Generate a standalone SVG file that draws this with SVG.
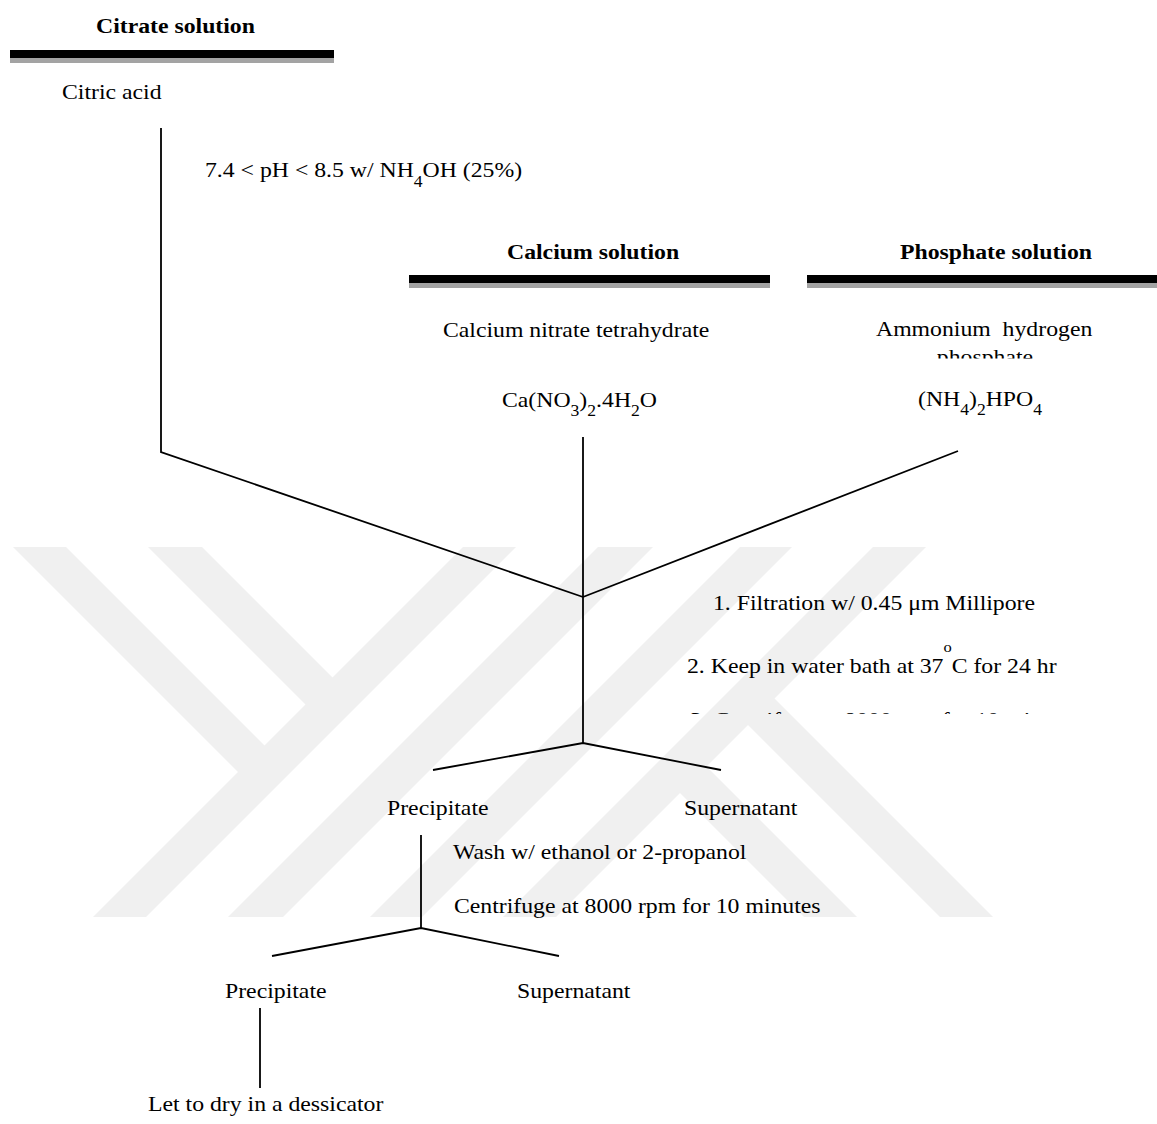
<svg xmlns="http://www.w3.org/2000/svg" width="1157" height="1124" viewBox="0 0 1157 1124">
<style>
.t{font-family:"Liberation Serif","Times New Roman",serif;font-size:21.6px;fill:#000}
.b{font-weight:bold}
.sub{font-size:16px}
.sup{font-size:15px}
.ln{stroke:#000;stroke-width:1.8;fill:none;stroke-linecap:butt}
.wm{fill:#f0f0f0}
.bar{fill:#000}
.shd{fill:#a3a3a3}
</style>
<defs>
<clipPath id="clipPhos"><rect x="880" y="340" width="220" height="18.5"/></clipPath>
<clipPath id="clipStep3"><rect x="680" y="700" width="400" height="14"/></clipPath>
</defs>
<rect x="0" y="0" width="1157" height="1124" fill="#fff"/>
<g id="watermark">
<polygon class="wm" points="463,547 516,547 146,917 93,917"/>
<polygon class="wm" points="598,547 653,547 283,917 228,917"/>
<polygon class="wm" points="740,547 792,547 422,917 370,917"/>
<polygon class="wm" points="873,547 926,547 556,917 503,917"/>
<polygon class="wm" points="13,547 66,547 277.5,758.5 251,785"/>
<polygon class="wm" points="148,547 202,547 345.5,690.5 318.5,717.5"/>
<polygon class="wm" points="761,685 993,917 940,917 734.5,711.5"/>
<polygon class="wm" points="693,753 857,917 804,917 666.5,779.5"/>
</g>
<g id="connectors">
<polyline class="ln" points="161,128 161,452 583,597"/>
<line class="ln" x1="583" y1="437" x2="583" y2="743"/>
<line class="ln" x1="958" y1="451" x2="583" y2="597"/>
<polyline class="ln" points="433,770 583,743 721,770"/>
<line class="ln" x1="421" y1="835" x2="421" y2="928"/>
<polyline class="ln" points="272,956 421,928 559,956"/>
<line class="ln" x1="260" y1="1008" x2="260" y2="1088"/>
</g>
<g id="citrate-header">
<text class="t b" transform="translate(96 33) scale(1.1 1)">Citrate solution</text>
<rect class="bar" x="10" y="50" width="324" height="8"/>
<rect class="shd" x="10" y="58" width="324" height="5"/>
</g>
<g id="citric-acid">
<text class="t" transform="translate(62 99) scale(1.1 1)">Citric acid</text>
</g>
<g id="ph-label">
<text class="t" transform="translate(205 177) scale(1.1 1)">7.4 &lt; pH &lt; 8.5 w/ NH<tspan class="sub" dy="10">4</tspan><tspan dy="-10">OH (25%)</tspan></text>
</g>
<g id="calcium-header">
<text class="t b" transform="translate(507 259) scale(1.1 1)">Calcium solution</text>
<rect class="bar" x="409" y="275" width="361" height="8"/>
<rect class="shd" x="409" y="283" width="361" height="5"/>
</g>
<g id="calcium-compound">
<text class="t" transform="translate(443 337) scale(1.1 1)">Calcium nitrate tetrahydrate</text>
<text class="t" transform="translate(502 407) scale(1.1 1)">Ca(NO<tspan class="sub" dy="9">3</tspan><tspan dy="-9">)</tspan><tspan class="sub" dy="9">2</tspan><tspan dy="-9">.4H</tspan><tspan class="sub" dy="9">2</tspan><tspan dy="-9">O</tspan></text>
</g>
<g id="phosphate-header">
<text class="t b" transform="translate(900 259) scale(1.1 1)">Phosphate solution</text>
<rect class="bar" x="807" y="275" width="350" height="8"/>
<rect class="shd" x="807" y="283" width="350" height="5"/>
</g>
<g id="phosphate-compound">
<text class="t" transform="translate(876 336) scale(1.1 1)">Ammonium&#160; hydrogen</text>
<g clip-path="url(#clipPhos)">
<text class="t" text-anchor="middle" transform="translate(985 364) scale(1.1 1)">phosphate</text>
</g>
<text class="t" transform="translate(918 406) scale(1.1 1)">(NH<tspan class="sub" dy="9">4</tspan><tspan dy="-9">)</tspan><tspan class="sub" dy="9">2</tspan><tspan dy="-9">HPO</tspan><tspan class="sub" dy="9">4</tspan></text>
</g>
<g id="steps-1">
<text class="t" transform="translate(713 610) scale(1.1 1)">1. Filtration w/ 0.45 μm Millipore</text>
<text class="t" transform="translate(687 673) scale(1.1 1)">2. Keep in water bath at 37<tspan class="sup" dy="-21">o</tspan><tspan dy="21">C for 24 hr</tspan></text>
<g clip-path="url(#clipStep3)">
<text class="t" transform="translate(690 727) scale(1.1 1)">3. Centrifuge at 8000 rpm for 10 minutes</text>
</g>
</g>
<g id="precipitate-1">
<text class="t" transform="translate(387 815) scale(1.1 1)">Precipitate</text>
</g>
<g id="supernatant-1">
<text class="t" transform="translate(684 815) scale(1.1 1)">Supernatant</text>
</g>
<g id="steps-2">
<text class="t" transform="translate(453 859) scale(1.1 1)">Wash w/ ethanol or 2-propanol</text>
<text class="t" transform="translate(454 913) scale(1.1 1)">Centrifuge at 8000 rpm for 10 minutes</text>
</g>
<g id="precipitate-2">
<text class="t" transform="translate(225 998) scale(1.1 1)">Precipitate</text>
</g>
<g id="supernatant-2">
<text class="t" transform="translate(517 998) scale(1.1 1)">Supernatant</text>
</g>
<g id="dry">
<text class="t" transform="translate(148 1111) scale(1.1 1)">Let to dry in a dessicator</text>
</g>
</svg>
